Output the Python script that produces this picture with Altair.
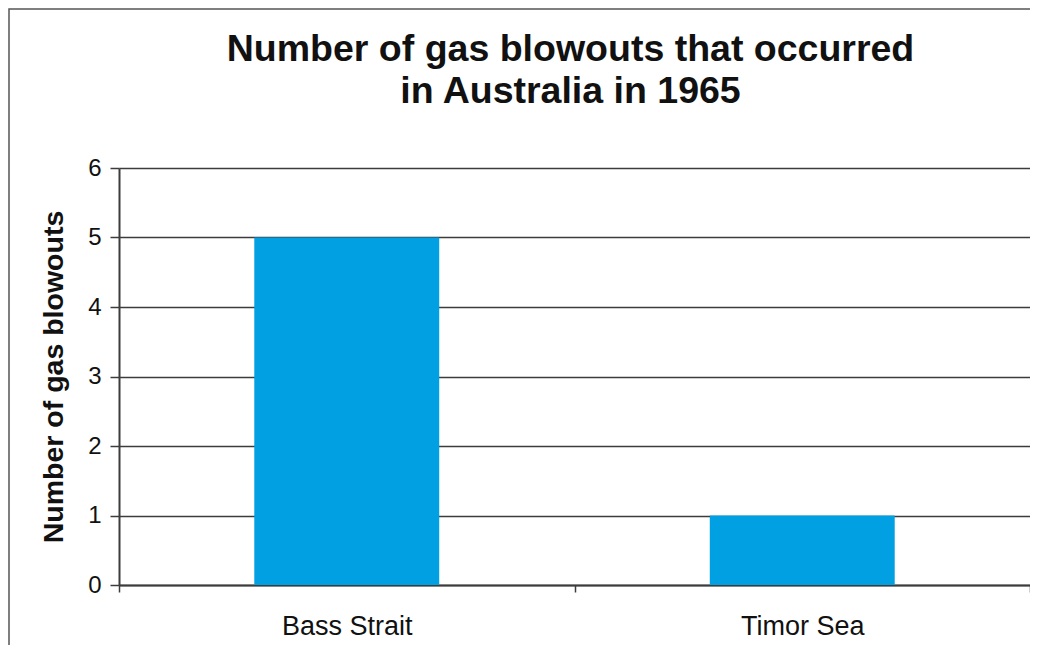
import altair as alt
import pandas as pd

regions = ["Bass Strait", "Timor Sea"]
blowouts = [5, 1]
y_ticks = [0, 1, 2, 3, 4, 5, 6]

df = pd.DataFrame({"region": regions, "count": blowouts})

W, H = 911, 417
DARK = "#3c3c3c"

frame = alt.Chart(pd.DataFrame({"k": [0]})).mark_rect(
    fill=None, stroke="#555555", strokeWidth=1.5, clip=False
).encode(
    x=alt.value(-110), x2=alt.value(W + 60),
    y=alt.value(-159), y2=alt.value(H + 120),
)

bars = alt.Chart(df).mark_bar(
    color="#00a0e2", width=alt.RelativeBandSize(0.406)
).encode(
    x=alt.X("region:N", sort=regions,
            scale=alt.Scale(paddingInner=0, paddingOuter=0),
            axis=alt.Axis(title=None, labelAngle=0, tickBand="extent",
                          labelFont="Liberation Sans", labelFontSize=27,
                          labelColor="#111111", labelPadding=21,
                          tickSize=7, tickColor=DARK, tickWidth=1.5,
                          domainColor=DARK, domainWidth=2, grid=False)),
    y=alt.Y("count:Q",
            scale=alt.Scale(domain=[0, 6], nice=False),
            axis=alt.Axis(title="Number of gas blowouts", values=y_ticks,
                          format="d",
                          titleFont="Liberation Sans", titleFontSize=28.5,
                          titleFontWeight="bold", titleColor="#111111",
                          titlePadding=19,
                          labelFont="Liberation Sans", labelFontSize=24,
                          labelColor="#111111", labelPadding=9,
                          tickSize=9, tickColor=DARK, tickWidth=1.5,
                          domainColor=DARK, domainWidth=2,
                          grid=True, gridColor=DARK, gridWidth=1.5)),
)

chart = alt.layer(frame, bars).properties(
    width=W, height=H,
    title=alt.TitleParams(
        text=["Number of gas blowouts that occurred", "in Australia in 1965"],
        font="Liberation Sans", fontSize=37.5, fontWeight="bold",
        color="#111111", anchor="middle", frame="group", lineHeight=42,
        offset=-102, dx=-4,
    ),
    autosize=alt.AutoSizeParams(type="none"),
    padding={"left": 111, "top": 160, "right": 0, "bottom": 60},
).configure_view(
    fill="#c0c0c2", stroke=DARK, strokeWidth=2
).configure(background="white")

chart.save("out.html", embed_options={"renderer": "svg", "actions": False})
